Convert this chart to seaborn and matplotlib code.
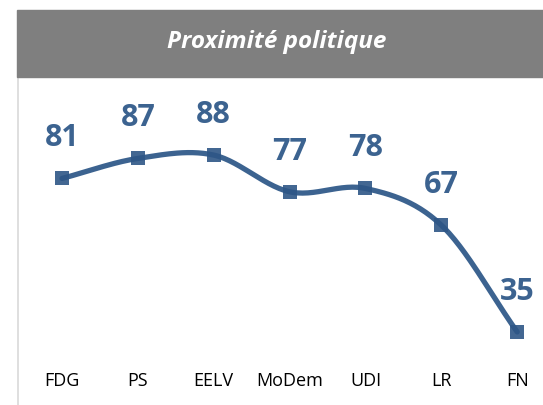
import numpy as np
import seaborn as sns
import matplotlib.pyplot as plt
from matplotlib.patches import Rectangle
import matplotlib.transforms as mtransforms

# data
partis = ['FDG', 'PS', 'EELV', 'MoDem', 'UDI', 'LR', 'FN']
scores = [81, 87, 88, 77, 78, 67, 35]
titre = 'Proximité politique'

bleu = '#3C6390'
bleu_fonce = '#2E5686'


def catmull_rom(x, y, n=30):
    # smooth curve through the points (like Excel's "smoothed line")
    x = np.asarray(x, float)
    y = np.asarray(y, float)
    px = np.concatenate([[2 * x[0] - x[1]], x, [2 * x[-1] - x[-2]]])
    py = np.concatenate([[2 * y[0] - y[1]], y, [2 * y[-1] - y[-2]]])
    xs, ys = [], []
    t = np.linspace(0, 1, n)
    for i in range(1, len(px) - 2):
        for p, out in ((px, xs), (py, ys)):
            p0, p1, p2, p3 = p[i - 1], p[i], p[i + 1], p[i + 2]
            out.extend(0.5 * ((2 * p1) + (-p0 + p2) * t
                              + (2 * p0 - 5 * p1 + 4 * p2 - p3) * t ** 2
                              + (-p0 + 3 * p1 - 3 * p2 + p3) * t ** 3))
    return np.array(xs), np.array(ys)


sns.set_theme(style='white')
plt.rcParams['font.family'] = ['Open Sans', 'DejaVu Sans']

fig = plt.figure(figsize=(5.43, 4.05), dpi=100)

# grey header band
fig.patches.append(Rectangle((17 / 543, 1 - 77 / 405), 1, 67 / 405,
                             transform=fig.transFigure, color='#7F7F7F', zorder=0))
fig.text(277 / 543, 1 - 42 / 405, titre, color='white', fontsize=17.5,
         fontweight='bold', fontstyle='italic', ha='center', va='center')

ax = fig.add_axes([18 / 543, 0, 525 / 543, 1 - 78 / 405])
xpos = np.arange(len(partis))
sx, sy = catmull_rom(xpos, scores)
sns.lineplot(x=sx, y=sy, ax=ax, color=bleu, linewidth=3.8, sort=False,
             solid_capstyle='round')
sns.scatterplot(x=xpos, y=scores, ax=ax, marker='s', s=95, color=bleu_fonce,
                alpha=0.9, linewidth=0, zorder=3)

for xi, v in zip(xpos, scores):
    ax.annotate(str(v), (xi, v), xytext=(0, 29), textcoords='offset points',
                ha='center', va='center', fontsize=22, fontweight='bold',
                color=bleu)

trans = mtransforms.blended_transform_factory(ax.transData, ax.transAxes)
for xi, p in zip(xpos, partis):
    ax.text(xi, 0.073, p, transform=trans, ha='center', va='center',
            fontsize=13, color='black')

ax.set_xlim(-0.58, 6.34)
ax.set_ylim(13.1, 111.1)
ax.set_xticks([])
ax.set_yticks([])
for s in ['top', 'right', 'bottom']:
    ax.spines[s].set_visible(False)
ax.spines['left'].set_color('#D9D9D9')
ax.spines['left'].set_linewidth(1.2)
ax.patch.set_alpha(0)

fig.savefig('out.png', dpi=100)
